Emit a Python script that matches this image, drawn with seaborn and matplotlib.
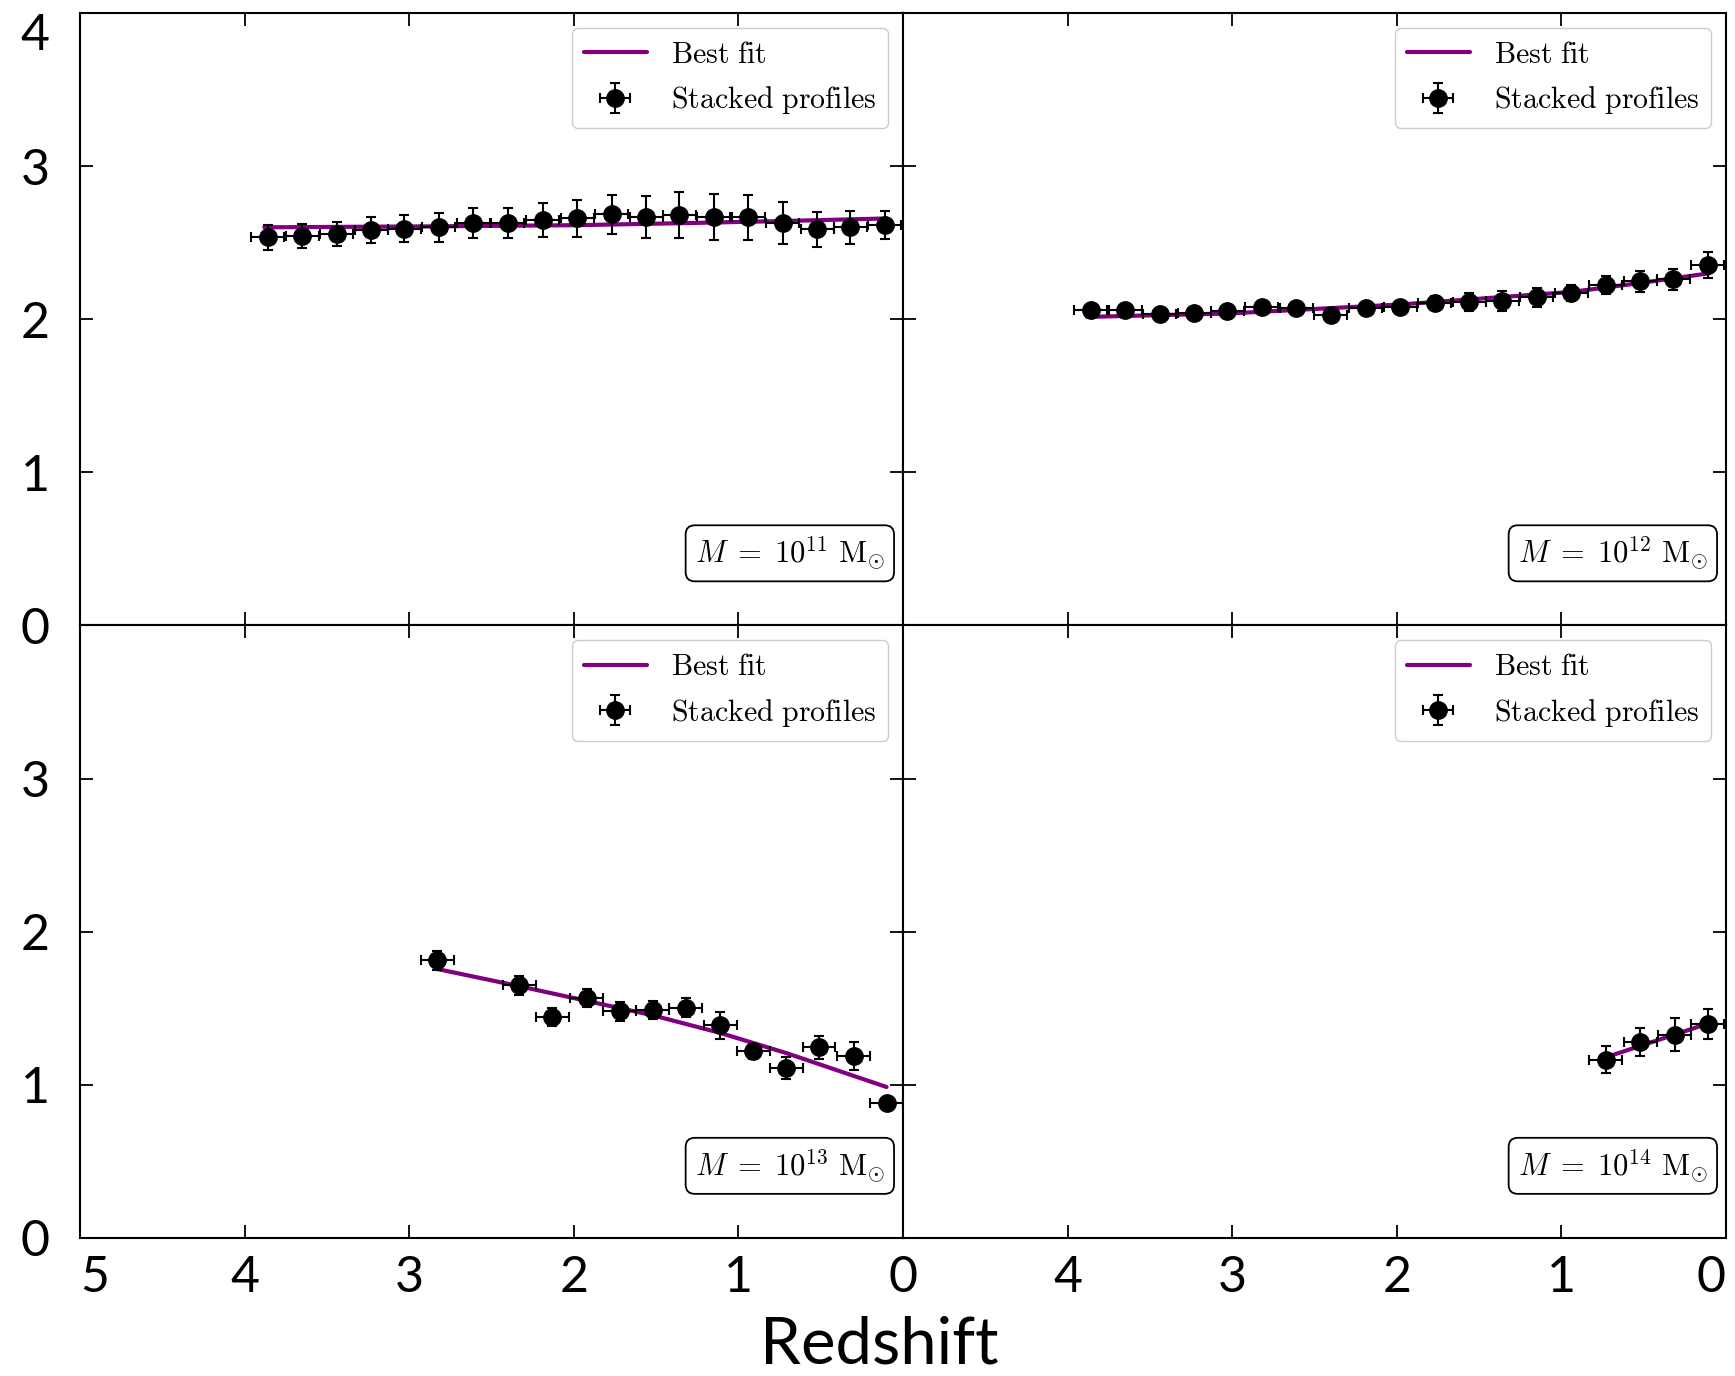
import matplotlib
matplotlib.use("Agg")
import matplotlib.pyplot as plt
import seaborn as sns

# ---------------- data ----------------
z_bins = [3.86, 3.65, 3.44, 3.23, 3.03, 2.82, 2.61, 2.40, 2.19, 1.98,
          1.77, 1.56, 1.36, 1.15, 0.94, 0.73, 0.52, 0.32, 0.11]

y_m11 = [2.534, 2.544, 2.556, 2.582, 2.591, 2.601, 2.629, 2.629, 2.647, 2.658,
         2.684, 2.669, 2.680, 2.667, 2.665, 2.629, 2.586, 2.599, 2.614]
err_m11 = [0.08, 0.08, 0.077, 0.083, 0.09, 0.095, 0.10, 0.10, 0.11, 0.12,
           0.13, 0.137, 0.148, 0.148, 0.145, 0.138, 0.117, 0.106, 0.09]
fit_z_m11 = [3.88, 2.90, 1.98, 1.30, 0.73, 0.10]
fit_y_m11 = [2.600, 2.606, 2.614, 2.628, 2.641, 2.658]

y_m12 = [2.059, 2.063, 2.037, 2.039, 2.052, 2.080, 2.070, 2.026, 2.070, 2.082,
         2.109, 2.113, 2.120, 2.142, 2.172, 2.222, 2.248, 2.261, 2.353]
err_m12 = [0.03, 0.03, 0.025, 0.025, 0.03, 0.04, 0.035, 0.04, 0.035, 0.04,
           0.045, 0.06, 0.065, 0.062, 0.05, 0.06, 0.07, 0.07, 0.087]
fit_z_m12 = [3.88, 3.03, 1.98, 0.94, 0.53, 0.10]
fit_y_m12 = [2.015, 2.037, 2.096, 2.178, 2.235, 2.300]

z_m13 = [2.83, 2.33, 2.13, 1.92, 1.72, 1.52, 1.32, 1.11, 0.91, 0.71, 0.51, 0.30, 0.10]
y_m13 = [1.813, 1.650, 1.443, 1.567, 1.480, 1.487, 1.505, 1.389, 1.219, 1.110,
         1.247, 1.191, 0.882]
err_m13 = [0.06, 0.062, 0.058, 0.058, 0.063, 0.06, 0.065, 0.09, 0.05, 0.07,
           0.075, 0.092, 0.03]
fit_z_m13 = [2.84, 2.33, 1.52, 1.11, 0.71, 0.10]
fit_y_m13 = [1.759, 1.644, 1.454, 1.339, 1.208, 0.986]

z_m14 = [0.73, 0.52, 0.31, 0.11]
y_m14 = [1.165, 1.280, 1.328, 1.396]
err_m14 = [0.087, 0.089, 0.109, 0.098]
fit_z_m14 = [0.73, 0.42, 0.11]
fit_y_m14 = [1.180, 1.290, 1.400]

z_halfwidth = 0.1
mass_labels = [r'$M\;=\;10^{11}\ \mathrm{M}_{\odot}$', r'$M\;=\;10^{12}\ \mathrm{M}_{\odot}$',
               r'$M\;=\;10^{13}\ \mathrm{M}_{\odot}$', r'$M\;=\;10^{14}\ \mathrm{M}_{\odot}$']
legend_labels = [r'$\mathrm{Best\ fit}$', r'$\mathrm{Stacked\ profiles}$']
x_ticks = [5, 4, 3, 2, 1, 0]
y_ticks = [0, 1, 2, 3, 4]
xlabel = 'Redshift'

# ---------------- style ----------------
sns.set_theme(style='ticks')
plt.rcParams['font.family'] = ['Lato', 'DejaVu Sans']
plt.rcParams['mathtext.fontset'] = 'cm'
plt.rcParams['axes.linewidth'] = 1.5
plt.rcParams['axes.edgecolor'] = 'black'
plt.rcParams['text.color'] = 'black'
plt.rcParams['xtick.color'] = 'black'
plt.rcParams['ytick.color'] = 'black'
plt.rcParams['xtick.labelcolor'] = 'black'
plt.rcParams['ytick.labelcolor'] = 'black'

fig, axes = plt.subplots(2, 2, figsize=(17.35, 13.76), dpi=100)
fig.subplots_adjust(left=0.0461, right=0.9948, top=0.9906, bottom=0.1003,
                    wspace=0, hspace=0)

panels = [
    (z_bins, y_m11, err_m11, fit_z_m11, fit_y_m11),
    (z_bins, y_m12, err_m12, fit_z_m12, fit_y_m12),
    (z_m13, y_m13, err_m13, fit_z_m13, fit_y_m13),
    (z_m14, y_m14, err_m14, fit_z_m14, fit_y_m14),
]

for i, (ax, (z, y, e, fz, fy)) in enumerate(zip(axes.flat, panels)):
    sns.lineplot(x=fz, y=fy, ax=ax, color='purple', lw=3, zorder=2)
    line_handle = ax.get_lines()[-1]
    eb = ax.errorbar(z, y, xerr=z_halfwidth, yerr=e, fmt='o', color='black',
                     ms=12.5, elinewidth=1.5, capsize=3.5, capthick=1.5, zorder=3)
    ax.set_xlim(5, 0)
    ax.set_ylim(0, 4)
    ax.set_xticks(x_ticks)
    ax.set_yticks(y_ticks)
    ax.set_xlabel('')
    ax.set_ylabel('')
    ax.tick_params(direction='in', top=True, right=True, bottom=True, left=True,
                   length=9.5, width=1.3, labelsize=36, color='black',
                   labelcolor='black')
    ax.tick_params(axis='y', pad=22)
    ax.tick_params(axis='x', pad=12)

    leg = ax.legend([line_handle, eb], legend_labels, loc='upper right',
                    fontsize=21.5, handlelength=2.1, labelspacing=0.55,
                    borderpad=0.4, frameon=True, fancybox=True,
                    edgecolor='0.8', framealpha=1.0, borderaxespad=0.5)
    ax.text(0.978, 0.087, mass_labels[i], transform=ax.transAxes,
            ha='right', va='bottom', fontsize=22, zorder=5,
            bbox=dict(boxstyle='round,pad=0.3', fc='white', ec='black', lw=1.3))

# label visibility
axes[0, 0].tick_params(labelbottom=False, labelleft=True)
axes[0, 1].tick_params(labelbottom=False, labelleft=False)
axes[1, 1].tick_params(labelleft=False)
axes[0, 0].set_yticklabels([str(t) for t in y_ticks])
axes[1, 0].set_yticklabels([str(t) for t in y_ticks[:-1]] + [''])
axes[1, 0].set_xticklabels([str(t) for t in x_ticks])
axes[1, 1].set_xticklabels([''] + [str(t) for t in x_ticks[1:]])

axes[0, 0].get_yticklabels()[-1].set_va('top')
axes[1, 0].get_xticklabels()[0].set_ha('left')
axes[1, 1].get_xticklabels()[-1].set_ha('right')

fig.text(879 / 1735, 2 / 1376, xlabel, ha='center', va='bottom', fontsize=47,
         color='black')

fig.savefig('out.png', dpi=100)
